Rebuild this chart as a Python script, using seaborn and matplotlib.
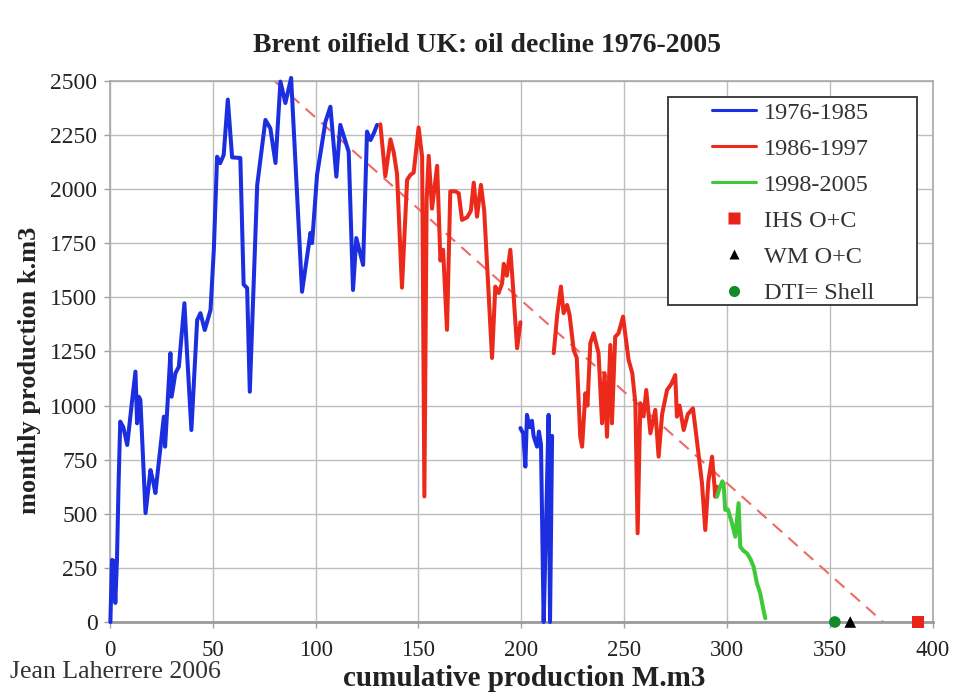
import numpy as np
import pandas as pd
import matplotlib
matplotlib.use("Agg")
import matplotlib.pyplot as plt
from matplotlib.lines import Line2D
from matplotlib.patches import Rectangle
import seaborn as sns

# Cumulative production (M.m3) and monthly production (k.m3)
blue_a_x = [0.2, 1.0, 1.8, 2.6, 3.4, 4.2, 5.0, 6.5, 8.4, 10.8, 12.4, 13.2, 14.0, 14.8,
            17.3, 19.7, 21.0, 22.1, 23.7, 26.2, 26.8, 29.4, 30.0, 31.8, 33.5, 36.2,
            37.4, 39.6, 42.4, 44.0, 46.1, 48.9, 50.5, 52.1, 53.6, 55.3, 57.3, 59.4,
            63.4, 65.0, 66.7, 68.0, 71.6, 75.6, 78.0, 80.5, 82.9, 85.3, 88.1, 93.4,
            97.5, 98.3, 100.7, 104.8, 107.2, 110.1, 112.0, 116.1, 118.2, 119.8,
            123.1, 125.0, 126.7, 128.3, 129.9]
blue_a_y = [0, 287, 283, 88, 287, 642, 926, 900, 818, 1026, 1157, 918, 1041, 1026,
            503, 702, 650, 596, 734, 949, 810, 1242, 1041, 1149, 1180, 1473,
            1257, 887, 1395, 1427, 1349, 1442, 1719, 2150, 2120, 2158, 2414, 2147,
            2144, 1560, 1543, 1064, 2019, 2320, 2281, 2121, 2497, 2398, 2514, 1526,
            1798, 1751, 2066, 2312, 2381, 2058, 2297, 2173, 1534, 1774,
            1650, 2266, 2227, 2258, 2297]

blue_b_x = [199.6, 201.0, 202.0, 202.8, 204.0, 205.2, 206.0, 207.7, 208.6, 209.6,
            210.9, 212.0, 213.3, 214.0, 215.0]
blue_b_y = [896, 870, 718, 957, 900, 930, 860, 810, 880, 820, 0, 420, 957, 0, 860]

red_a_x = [131.5, 133.9, 136.4, 138.0, 139.6, 142.0, 144.5, 146.1, 147.7, 150.1,
           151.8, 152.9, 154.0, 155.0, 156.6, 159.1, 160.7, 162.0, 163.9, 165.5,
           168.0, 169.6, 171.2, 173.7, 175.5, 176.9, 178.5, 180.4, 182.0, 185.8,
           187.4, 189.0, 190.7, 191.5, 193.0, 194.7, 196.0, 198.0, 199.6]
red_a_y = [2300, 2060, 2230, 2170, 2070, 1545, 2043, 2066, 2077, 2285,
           2150, 580, 1950, 2154, 1910, 2108, 1670, 1720, 1350, 1990,
           1990, 1981, 1858, 1870, 1900, 2030, 1873, 2020, 1900, 1220,
           1550, 1520, 1565, 1655, 1600, 1720, 1550, 1265, 1385]

red_b_x = [215.8, 217.5, 219.3, 220.6, 222.3, 223.5, 225.5, 227.0, 228.7, 229.6,
           231.2, 232.2, 233.6, 235.2, 237.6, 239.3, 240.5, 241.7, 243.3, 244.1,
           245.7, 247.3, 249.5, 251.0, 252.2, 254.0, 255.5, 256.6, 257.9, 259.5,
           260.8, 262.8, 265.2, 266.8, 268.5, 270.9, 273.0, 274.9, 275.7, 277.0,
           279.0, 281.0, 283.5, 285.4, 287.9, 289.5, 291.0, 292.8, 294.4, 295.2]
red_b_y = [1242, 1420, 1550, 1427, 1465, 1420, 1257, 1220, 856, 810,
           1057, 1000, 1288, 1334, 1242, 918, 1150, 856, 1280, 918,
           1318, 1334, 1411, 1300, 1211, 1150, 1011, 410, 1011, 950,
           1072, 872, 980, 764, 960, 1072, 1100, 1141, 949, 1000,
           887, 960, 987, 841, 641, 425, 650, 764, 579, 625]

green_x = [295.2, 296.5, 297.8, 298.4, 299.2, 300.5, 302.5, 304.1, 305.7, 306.5,
           308.0, 309.8, 311.5, 313.0, 314.6, 316.2, 317.8, 318.7]
green_y = [579, 620, 650, 641, 518, 520, 456, 394, 549, 348,
           330, 317, 290, 256, 179, 133, 55, 17]

# Decline trend (dashed)
trend_x = [80, 376]
trend_y = [2500, 0]

# Ultimate recovery estimates
estimates = ["IHS O+C", "WM O+C", "DTI= Shell"]
estimate_x = [393, 360, 352.5]
estimate_y = [0, 0, 0]

periods = ["1976-1985", "1986-1997", "1998-2005"]
colors = {"1976-1985": "#1b2fe0", "1986-1997": "#ec2a1c", "1998-2005": "#3fc93a"}

segments = [("1976-1985", blue_a_x, blue_a_y), ("1976-1985", blue_b_x, blue_b_y),
            ("1986-1997", red_a_x, red_a_y), ("1986-1997", red_b_x, red_b_y),
            ("1998-2005", green_x, green_y)]

rows = []
for i, (period, xs, ys) in enumerate(segments):
    for x, y in zip(xs, ys):
        rows.append({"cum": x, "prod": y, "period": period, "seg": i})
df = pd.DataFrame(rows)

sns.set_theme(style="white")
serif = ["Liberation Serif", "DejaVu Serif"]
plt.rcParams["font.family"] = serif

fig = plt.figure(figsize=(9.74, 6.98), dpi=100)
ax = fig.add_axes([0.1129, 0.1089, 0.8445, 0.7751])

sns.lineplot(data=df, x="cum", y="prod", hue="period", units="seg",
             estimator=None, sort=False, palette=colors, hue_order=periods,
             linewidth=2.9, ax=ax, legend=False, zorder=3)
for ln in ax.lines:
    ln.set_clip_on(False)

trend = pd.DataFrame({"cum": trend_x, "prod": trend_y})
sns.lineplot(data=trend, x="cum", y="prod", color="#ee6a66", linewidth=1.5,
             ax=ax, zorder=2, legend=False)
ax.lines[-1].set_dashes([6, 4])

est = pd.DataFrame({"cum": estimate_x, "prod": estimate_y, "src": estimates})
marker_map = {"IHS O+C": "s", "WM O+C": "^", "DTI= Shell": "o"}
marker_col = {"IHS O+C": "#e8231a", "WM O+C": "black", "DTI= Shell": "#118a2a"}
sns.scatterplot(data=est, x="cum", y="prod", hue="src", style="src",
                markers=marker_map, palette=marker_col, s=70, edgecolor="none",
                ax=ax, legend=False, zorder=5, clip_on=False)

ax.set_xlim(0, 400)
ax.set_ylim(0, 2500)
ax.set_xticks(np.arange(0, 401, 50))
ax.set_yticks(np.arange(0, 2501, 250))
ax.grid(True, color="#bdbdbd", linewidth=1.0)
ax.set_axisbelow(True)
for side, sp in ax.spines.items():
    sp.set_color("#a8a8a8")
    sp.set_linewidth(1.2)
ax.spines["bottom"].set_color("#9a9a9a")
ax.spines["bottom"].set_linewidth(2.0)
ax.tick_params(axis="both", labelsize=17, colors="#a0a0a0", labelcolor="#222222",
               length=4, width=1, direction="out", left=True, bottom=True)
ax.tick_params(axis="x", labelsize=16.5, pad=9)
ax.tick_params(axis="y", pad=5)
ax.set_xlabel("")
ax.set_ylabel("")

# Legend: framed box drawn separately, entries placed inside it
box = Rectangle((0.678, 0.586), 0.303, 0.384, transform=ax.transAxes,
                facecolor="white", edgecolor="#333333", linewidth=1.3, zorder=6)
ax.add_patch(box)
handles = [Line2D([], [], color=colors[p], linewidth=2.2) for p in periods]
handles += [Line2D([], [], linestyle="none", marker=marker_map[e],
                   markersize=8 if e != "WM O+C" else 7,
                   markerfacecolor=marker_col[e], markeredgecolor="none")
            for e in estimates]
leg = ax.legend(handles, periods + estimates, loc="upper left",
                bbox_to_anchor=(0.732, 0.962), fontsize=17.5, frameon=False,
                handlelength=1.8, labelspacing=0.58, borderpad=0.0,
                handletextpad=0.35, borderaxespad=0.0)
leg.set_zorder(7)
for t in leg.get_texts():
    t.set_color("#333333")

fig.text(0.5, 1 - 45 / 698, "Brent oilfield UK: oil decline 1976-2005",
         ha="center", va="center", fontsize=20, fontweight="bold", color="#222222")
fig.text(524 / 974, 1 - 678 / 698, "cumulative production M.m3",
         ha="center", va="center", fontsize=21, fontweight="bold", color="#222222")
fig.text(30 / 974, 1 - 370 / 698, "monthly production k.m3", rotation=90,
         ha="center", va="center", fontsize=19, fontweight="bold", color="#222222")
fig.text(10 / 974, 1 - 672 / 698, "Jean Laherrere 2006",
         ha="left", va="center", fontsize=18.5, color="#333333")

fig.savefig("out.png", dpi=100, facecolor="white")
